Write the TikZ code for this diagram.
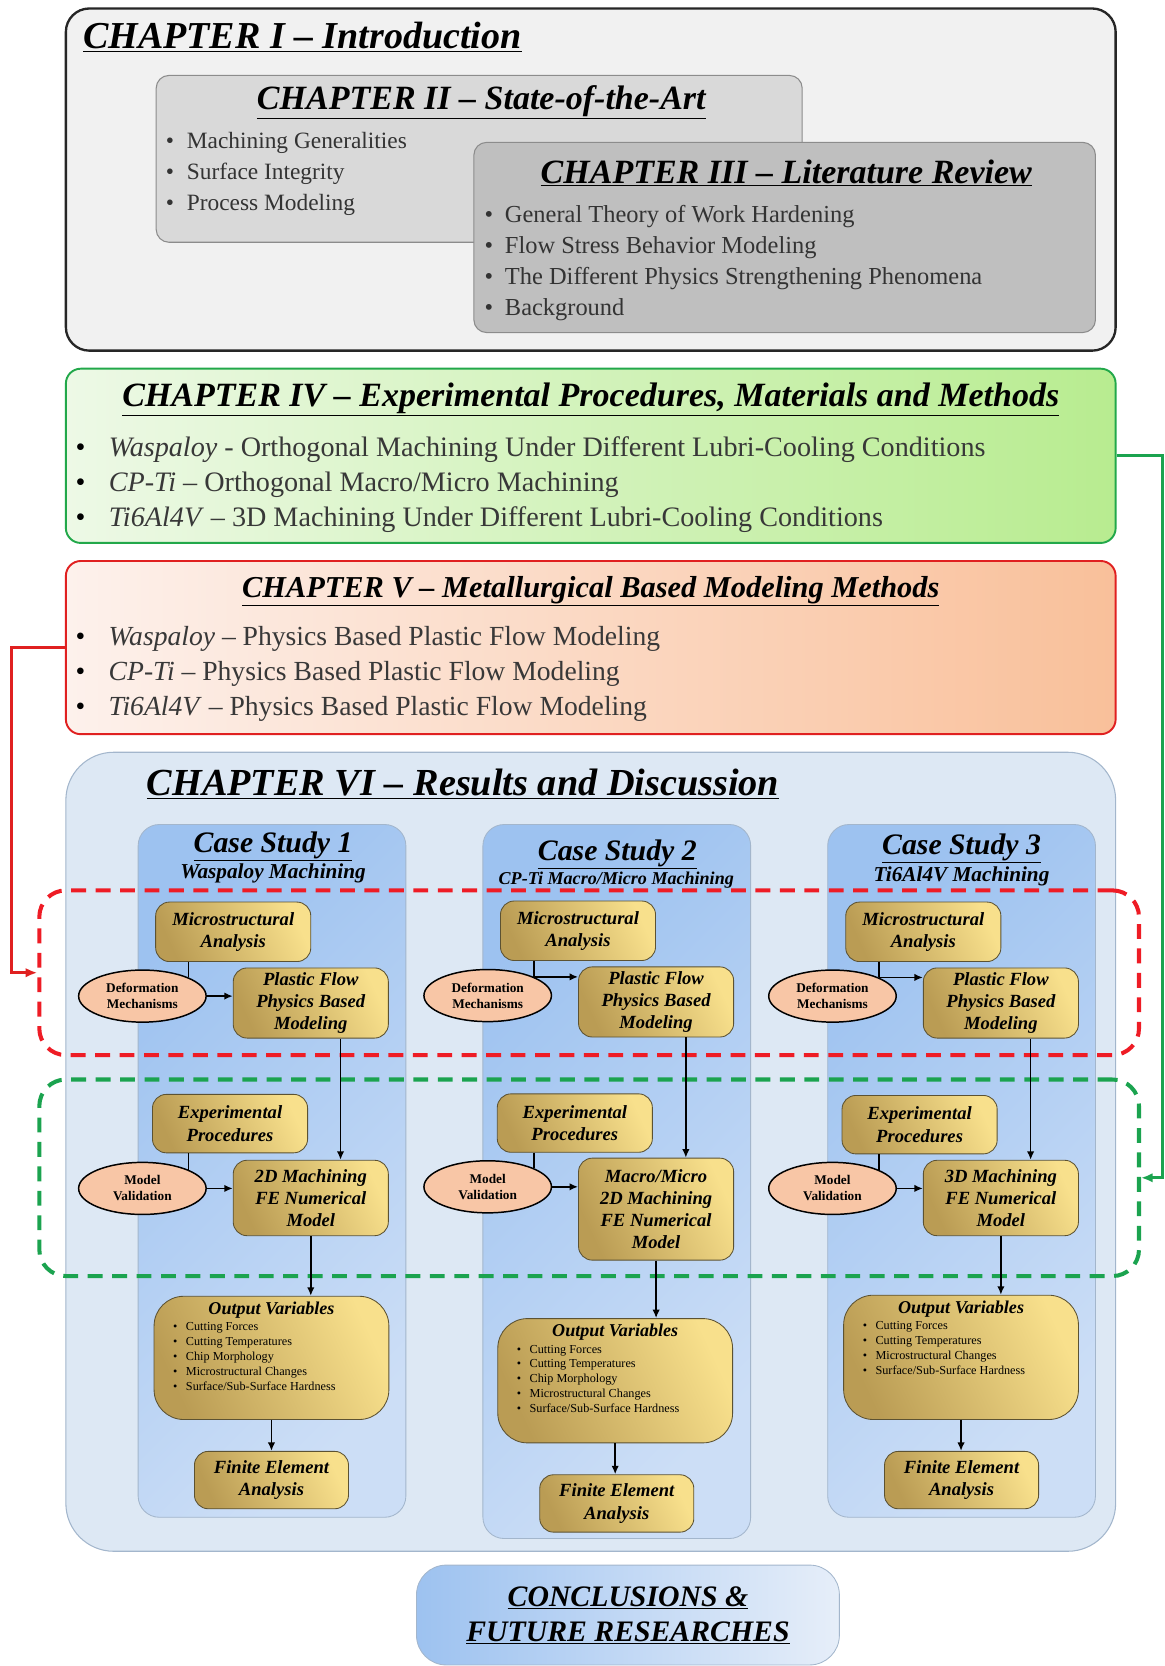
\documentclass[tikz,border=0pt]{standalone}
\usepackage{fontspec}
\setmainfont{Liberation Serif}
\usepackage{tikz}
\usetikzlibrary{arrows.meta, calc, shapes.geometric}

\definecolor{introfill}{HTML}{F1F1F1}
\definecolor{statefill}{HTML}{D9D9D9}
\definecolor{litfill}{HTML}{BFBFBF}
\definecolor{boxgray}{HTML}{8C8C8C}
\definecolor{expleft}{HTML}{EDF9E6}
\definecolor{expright}{HTML}{B8EC90}
\definecolor{expgreen}{HTML}{22A84A}
\definecolor{metleft}{HTML}{FDF1EC}
\definecolor{metright}{HTML}{F9C09A}
\definecolor{metred}{HTML}{E02020}
\definecolor{resfill}{HTML}{DDE8F4}
\definecolor{resedge}{HTML}{A3B6CC}
\definecolor{caseleft}{HTML}{9DC2F0}
\definecolor{caseright}{HTML}{CCDEF6}
\definecolor{conclright}{HTML}{E6EEF9}
\definecolor{golddark}{HTML}{BA9C54}
\definecolor{goldlight}{HTML}{F8E08C}
\definecolor{goldedge}{HTML}{5C5232}
\definecolor{peach}{HTML}{F8C6A6}
\definecolor{zonered}{HTML}{EE1C25}
\definecolor{zonegreen}{HTML}{1BA34F}
\definecolor{textgray}{HTML}{383838}

\tikzset{
   titlefont/.style={font=\fontsize{#1}{#1}\selectfont\bfseries\itshape, inner sep=0pt},
   goldfill/.style={draw=goldedge, line width=0.8pt, top color=goldlight, bottom color=golddark, shading angle=-65, inner sep=0pt},
   gold/.style={goldfill, rounded corners=13pt, minimum width=146, align=center, font=\fontsize{17.5}{21}\selectfont\bfseries\itshape},
   oval/.style={ellipse, draw, line width=1.4pt, fill=peach, minimum width=120, minimum height=49, inner sep=0pt, align=center, font=\fontsize{12.5}{15}\selectfont\bfseries},
   casebox/.style={draw=resedge, line width=0.8pt, rounded corners=20pt, top color=caseleft, bottom color=caseright, shading angle=45, minimum width=252, inner sep=0pt},
   zone/.style={line width=3.8pt, dash pattern=on 14pt off 9pt, rounded corners=25pt, minimum width=1035, inner sep=0pt},
   flow/.style={line width=1.6pt, -{Latex[length=8pt,width=7pt]}},
   link/.style={line width=1.6pt}
}

\newcommand{\outvars}[2]{\parbox[c][#1pt][t]{205pt}{\centering Output Variables\par\vspace{1.5pt}%
   \raggedright\leftskip=10pt\normalfont\fontsize{11.5}{14.1}\selectfont #2}}
\newcommand{\ovbul}{\textbullet\hspace{8pt}}

\begin{document}
\begin{tikzpicture}[x=1pt, y=-1pt]
   \useasboundingbox (0,0) rectangle (1096,1568);

   % chapters I to III
   \node[draw=black!85, line width=2.2pt, fill=introfill, rounded corners=22pt, minimum width=988, minimum height=322, inner sep=0pt] (ch1) at (556,169) {};
   \node[titlefont=35.8, anchor=base west] (t1) at (78,46) {\underline{CHAPTER I -- Introduction}};
   \node[draw=boxgray, line width=1pt, fill=statefill, rounded corners=12pt, minimum width=608, minimum height=157, inner sep=0pt] (ch2) at (451,149.5) {};
   \node[titlefont=32, anchor=base] (t2) at (453,103) {\underline{CHAPTER II -- State-of-the-Art}};
   \node[anchor=north west, align=left, inner sep=0pt, text=black!80, font=\fontsize{22}{29}\selectfont] (l2) at (156,124.5)
      {\textbullet\hspace{12pt}Machining Generalities\\ \textbullet\hspace{12pt}Surface Integrity\\ \textbullet\hspace{12pt}Process Modeling};
   \node[draw=boxgray, line width=1pt, fill=litfill, rounded corners=12pt, minimum width=585, minimum height=179, inner sep=0pt] (ch3) at (738.5,223.5) {};
   \node[titlefont=32, anchor=base] (t3) at (740,173) {\underline{CHAPTER III -- Literature Review}};
   \node[anchor=north west, align=left, inner sep=0pt, text=black!80, font=\fontsize{23}{29.3}\selectfont] (l3) at (456,193)
      {\textbullet\hspace{11pt}General Theory of Work Hardening\\ \textbullet\hspace{11pt}Flow Stress Behavior Modeling\\
       \textbullet\hspace{11pt}The Different Physics Strengthening Phenomena\\ \textbullet\hspace{11pt}Background};

   % chapters IV and V
   \node[draw=expgreen, line width=1.8pt, left color=expleft, right color=expright, rounded corners=14pt, minimum width=988, minimum height=164, inner sep=0pt] (ch4) at (556,429) {};
   \node[titlefont=32, anchor=base] (t4) at (556,383) {\underline{CHAPTER IV -- Experimental Procedures, Materials and Methods}};
   \node[anchor=north west, align=left, inner sep=0pt, text=textgray, font=\fontsize{26.5}{33}\selectfont] (l4) at (71,411)
      {{\color{black}\textbullet}\hspace{22pt}\textit{Waspaloy} - Orthogonal Machining Under Different Lubri-Cooling Conditions\\
       {\color{black}\textbullet}\hspace{22pt}\textit{CP-Ti} -- Orthogonal Macro/Micro Machining\\
       {\color{black}\textbullet}\hspace{22pt}\textit{Ti6Al4V} -- 3D Machining Under Different Lubri-Cooling Conditions};
   \node[draw=metred, line width=1.8pt, left color=metleft, right color=metright, rounded corners=14pt, minimum width=988, minimum height=163, inner sep=0pt] (ch5) at (556,609.5) {};
   \node[titlefont=28.6, anchor=base] (t5) at (556,562) {\underline{CHAPTER V -- Metallurgical Based Modeling Methods}};
   \node[anchor=north west, align=left, inner sep=0pt, text=textgray, font=\fontsize{26}{33}\selectfont] (l5) at (71,589)
      {{\color{black}\textbullet}\hspace{22pt}\textit{Waspaloy} -- Physics Based Plastic Flow Modeling\\
       {\color{black}\textbullet}\hspace{22pt}\textit{CP-Ti} -- Physics Based Plastic Flow Modeling\\
       {\color{black}\textbullet}\hspace{22pt}\textit{Ti6Al4V} -- Physics Based Plastic Flow Modeling};

   % chapter VI
   \node[draw=resedge, line width=1pt, fill=resfill, rounded corners=45pt, minimum width=988, minimum height=752, inner sep=0pt] (ch6) at (556,1084) {};
   \node[titlefont=36, anchor=base west] (t6) at (138,749) {\underline{CHAPTER VI -- Results and Discussion}};
   \node[casebox, minimum height=652] (case1) at (256,1102) {};
   \node[casebox, minimum height=672] (case2) at (580.5,1112) {};
   \node[casebox, minimum height=652] (case3) at (905,1102) {};
   \node[zone, draw=zonered, minimum height=155] (redzone) at (554.5,915.5) {};
   \node[zone, draw=zonegreen, minimum height=185] (greenzone) at (554.5,1108.5) {};

   % case study 1
   \node[titlefont=28, anchor=base] (cs1) at (257,802) {\underline{Case Study 1}};
   \node[titlefont=20, anchor=base] (sub1) at (257,827) {Waspaloy Machining};
   \node[gold, minimum height=56] (ma1) at (219.5,877) {Microstructural\\Analysis};
   \node[oval] (dm1) at (134,937.5) {Deformation\\Mechanisms};
   \node[gold, minimum height=66] (pf1) at (292.5,944) {Plastic Flow\\Physics Based\\Modeling};
   \node[gold, minimum height=55] (ep1) at (216.5,1057.5) {Experimental\\Procedures};
   \node[oval] (mv1) at (134,1118.5) {Model\\Validation};
   \node[gold, minimum height=71] (fem1) at (292.5,1127.5) {2D Machining\\FE Numerical\\Model};
   \node[goldfill, rounded corners=28pt, inner xsep=8pt, inner ysep=5pt, font=\fontsize{17}{19}\selectfont\bfseries\itshape] (ov1) at (255.5,1278)
      {\outvars{106}{\ovbul Cutting Forces\\ \ovbul Cutting Temperatures\\ \ovbul Chip Morphology\\ \ovbul Microstructural Changes\\ \ovbul Surface/Sub-Surface Hardness}};
   \node[gold, minimum width=145, minimum height=54] (fea1) at (255.5,1393) {Finite Element\\Analysis};
   \draw[link] (ma1.south -| dm1.22) -- (dm1.22);
   \draw[flow] (dm1.east) -- (dm1.east -| pf1.west);
   \draw[flow] ($(pf1.south)+(28,0)$) coordinate (d1) -- (d1 |- fem1.north);
   \draw[link] (ep1.south -| mv1.22) -- (mv1.22);
   \draw[flow] (mv1.east) -- (mv1.east -| fem1.west);
   \draw[flow] (fem1.south) -- (fem1.south |- ov1.north);
   \draw[flow] (ov1.south) -- (ov1.south |- fea1.north);

   % case study 2
   \begin{scope}[xshift=325pt]
      \node[titlefont=28, anchor=base] (cs2) at (256,810) {\underline{Case Study 2}};
      \node[titlefont=17, anchor=base] (sub2) at (255,832) {CP-Ti Macro/Micro Machining};
      \node[gold, minimum height=56] (ma2) at (219,876) {Microstructural\\Analysis};
      \node[oval] (dm2) at (134,937) {Deformation\\Mechanisms};
      \node[gold, minimum height=66] (pf2) at (292.5,943) {Plastic Flow\\Physics Based\\Modeling};
      \node[gold, minimum height=55] (ep2) at (216,1057) {Experimental\\Procedures};
      \node[oval] (mv2) at (134,1117) {Model\\Validation};
      \node[gold, minimum height=96] (fem2) at (292.5,1138) {Macro/Micro\\2D Machining\\FE Numerical\\Model};
      \node[goldfill, rounded corners=28pt, inner xsep=8pt, inner ysep=5pt, font=\fontsize{17}{19}\selectfont\bfseries\itshape] (ov2) at (254,1299.5)
         {\outvars{107}{\ovbul Cutting Forces\\ \ovbul Cutting Temperatures\\ \ovbul Chip Morphology\\ \ovbul Microstructural Changes\\ \ovbul Surface/Sub-Surface Hardness}};
      \node[gold, minimum width=145, minimum height=54] (fea2) at (255.5,1415) {Finite Element\\Analysis};
      \draw[link] (ma2.south -| dm2.22) -- (dm2.22);
      \draw[flow] (dm2.22) -- (dm2.22 -| pf2.west);
      \draw[flow] ($(pf2.south)+(28,0)$) coordinate (d2) -- (d2 |- fem2.north);
      \draw[link] (ep2.south -| mv2.22) -- (mv2.22);
      \draw[flow] (mv2.east) -- (mv2.east -| fem2.west);
      \draw[flow] (fem2.south) -- (fem2.south |- ov2.north);
      \draw[flow] (ov2.south) -- (ov2.south |- fea2.north);
   \end{scope}

   % case study 3
   \begin{scope}[xshift=650pt]
      \node[titlefont=28, anchor=base] (cs3) at (255,804) {\underline{Case Study 3}};
      \node[titlefont=20, anchor=base] (sub3) at (255,830) {Ti6Al4V Machining};
      \node[gold, minimum height=56] (ma3) at (219,877) {Microstructural\\Analysis};
      \node[oval] (dm3) at (133.5,937.5) {Deformation\\Mechanisms};
      \node[gold, minimum height=66] (pf3) at (292,944) {Plastic Flow\\Physics Based\\Modeling};
      \node[gold, minimum height=55] (ep3) at (215.5,1058.5) {Experimental\\Procedures};
      \node[oval] (mv3) at (133.5,1118.5) {Model\\Validation};
      \node[gold, minimum height=71] (fem3) at (292,1127.5) {3D Machining\\FE Numerical\\Model};
      \node[goldfill, rounded corners=28pt, inner xsep=8pt, inner ysep=5pt, font=\fontsize{17}{19}\selectfont\bfseries\itshape] (ov3) at (254.5,1277.5)
         {\outvars{107}{\ovbul Cutting Forces\\ \ovbul Cutting Temperatures\\ \ovbul Microstructural Changes\\ \ovbul Surface/Sub-Surface Hardness}};
      \node[gold, minimum width=145, minimum height=54] (fea3) at (255,1393) {Finite Element\\Analysis};
      \draw[link] (ma3.south -| dm3.22) -- (dm3.22);
      \draw[flow] (dm3.22) -- (dm3.22 -| pf3.west);
      \draw[flow] ($(pf3.south)+(28,0)$) coordinate (d3) -- (d3 |- fem3.north);
      \draw[link] (ep3.south -| mv3.22) -- (mv3.22);
      \draw[flow] (mv3.east) -- (mv3.east -| fem3.west);
      \draw[flow] (fem3.south) -- (fem3.south |- ov3.north);
      \draw[flow] (ov3.south) -- (ov3.south |- fea3.north);
   \end{scope}

   % links from chapters IV and V
   \draw[line width=3pt, metred, -{Latex[length=11pt,width=9pt]}] (ch5.west) -- ++(-50,0) |- (redzone.west);
   \draw[line width=3pt, zonegreen, -{Latex[length=11pt,width=9pt]}] (ch4.east) -- ++(43,0) |- (greenzone.east);

   \node[draw=resedge, line width=0.8pt, left color=caseleft, right color=conclright, rounded corners=28pt, minimum width=398, minimum height=94, inner sep=0pt,
      align=center, font=\fontsize{28}{33}\selectfont\bfseries\itshape] (concl) at (591,1520) {\underline{CONCLUSIONS \&}\\ \underline{FUTURE RESEARCHES}};
\end{tikzpicture}
\end{document}
